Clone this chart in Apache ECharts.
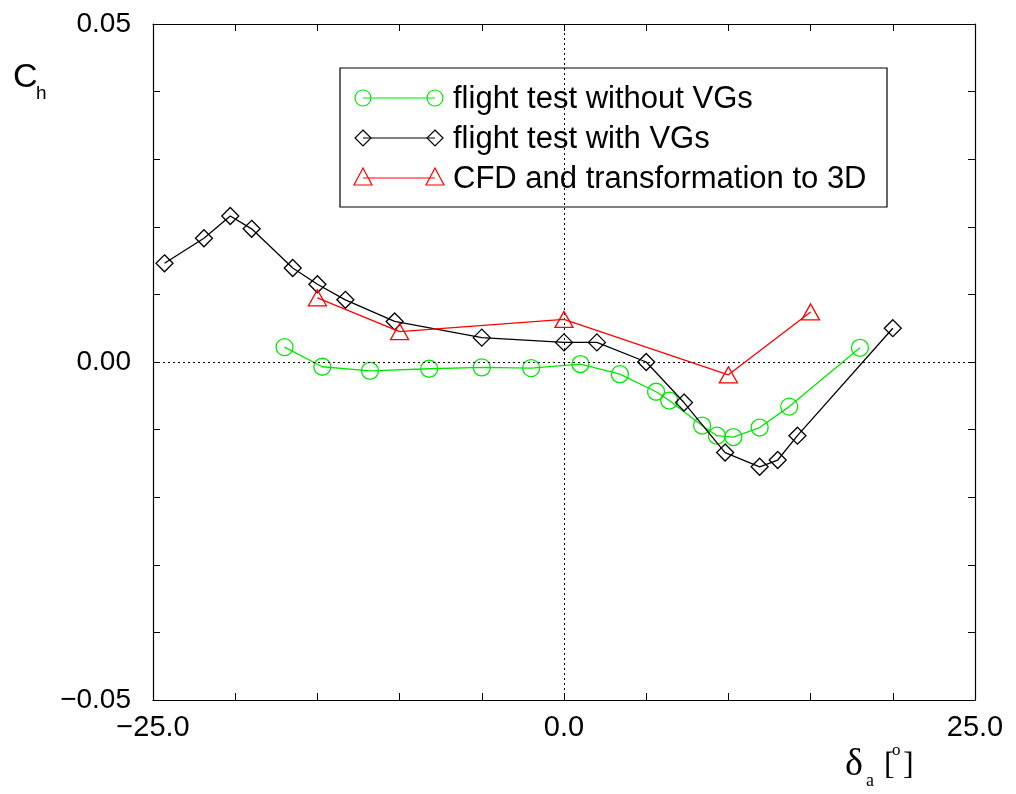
<!DOCTYPE html>
<html>
<head>
<meta charset="utf-8">
<script src="https://cdn.jsdelivr.net/npm/echarts@6/dist/echarts.min.js"></script>
<style>
  html, body { margin: 0; padding: 0; background: #fff; }
  #chart { width: 1016px; height: 794px; }
</style>
</head>
<body>
<div id="chart"></div>
<script>
// Hinge moment coefficient C_h versus aileron deflection delta_a [deg]
const seriesNames = ['flight test without VGs', 'flight test with VGs', 'CFD and transformation to 3D'];

// flight test without vortex generators
const noVgX = [-17.0, -14.7, -11.8, -8.2, -5.0, -2.0, 1.0, 3.4, 5.6, 6.4, 8.4, 9.3, 10.3, 11.9, 13.7, 18.0];
const noVgY = [0.0022, -0.0007, -0.0013, -0.0010, -0.0008, -0.0009, -0.0003, -0.0018, -0.0044, -0.0057, -0.0094, -0.0109, -0.0111, -0.0097, -0.0066, 0.0021];

// flight test with vortex generators
const vgX = [-24.3, -21.9, -20.3, -19.0, -16.5, -15.0, -13.3, -10.3, -5.0, 0.0, 2.0, 5.0, 7.3, 9.8, 11.9, 13.0, 14.2, 20.0];
const vgY = [0.0146, 0.0183, 0.0216, 0.0197, 0.0139, 0.0115, 0.0092, 0.0060, 0.0036, 0.0029, 0.0029, 0.0000, -0.0060, -0.0134, -0.0155, -0.0145, -0.0109, 0.0050];

// CFD result transformed to 3D
const cfdX = [-15.0, -10.0, 0.0, 10.0, 15.0];
const cfdY = [0.0095, 0.0045, 0.0063, -0.0019, 0.0074];

// labelled ticks
const xTickLabels = { '-25': '\u221225.0', '0': '0.0', '25': '25.0' };
const yTickLabels = [[-0.05, '\u22120.05'], [0, '0.00'], [0.05, '0.05']];

const pairs = (xs, ys) => xs.map((x, i) => [x, ys[i]]);

const GREEN = '#00e800';
const BLACK = '#000000';
const RED = '#ff0000';
const FONT = 'Liberation Sans, Arial, sans-serif';
const SERIF = 'Liberation Serif, Times New Roman, serif';

function yLabel(v) {
  for (const [t, s] of yTickLabels) if (Math.abs(v - t) < 1e-9) return s;
  return '';
}
function xLabel(v) {
  const k = String(Math.round(v));
  return Math.abs(v - Math.round(v)) < 1e-9 && xTickLabels[k] !== undefined ? xTickLabels[k] : '';
}

const tickStyle = { show: true, inside: true, length: 7, lineStyle: { color: '#000', width: 1 } };
const lineAxis = { show: true, onZero: false, lineStyle: { color: '#000', width: 1.2 } };

const chart = echarts.init(document.getElementById('chart'), null, { renderer: 'canvas' });

// legend rows: marker at both ends of a short line, then the name
function legendRow(i, color, marker) {
  const y = 98 + i * 40;
  const x1 = 363, x2 = 435;
  const els = [{
    type: 'line', shape: { x1: x1, y1: y, x2: x2, y2: y },
    style: { stroke: color, lineWidth: 1.2 }
  }];
  for (const cx of [x1, x2]) {
    if (marker === 'circle') {
      els.push({ type: 'circle', shape: { cx: cx, cy: y, r: 8 }, style: { stroke: color, fill: null, lineWidth: 1.2 } });
    } else if (marker === 'diamond') {
      els.push({ type: 'polygon', shape: { points: [[cx, y - 8], [cx + 8, y], [cx, y + 8], [cx - 8, y]] }, style: { stroke: color, fill: null, lineWidth: 1.2 } });
    } else {
      els.push({ type: 'polygon', shape: { points: [[cx, y - 10], [cx + 9, y + 7], [cx - 9, y + 7]] }, style: { stroke: color, fill: null, lineWidth: 1.2 } });
    }
  }
  els.push({
    type: 'text', x: 453, y: y + 1,
    style: { text: seriesNames[i], font: '31px ' + FONT, fill: '#000', verticalAlign: 'middle', textAlign: 'left' }
  });
  return els;
}

const option = {
  backgroundColor: '#fff',
  animation: false,
  grid: { left: 153, right: 41, top: 24, bottom: 94 },
  xAxis: [{
    type: 'value', min: -25, max: 25, interval: 5, position: 'bottom',
    axisLine: lineAxis, axisTick: tickStyle, splitLine: { show: false },
    axisLabel: { show: true, formatter: xLabel, fontSize: 29, fontFamily: FONT, color: '#000', margin: 13, showMinLabel: true, showMaxLabel: true }
  }, {
    type: 'value', min: -25, max: 25, interval: 5, position: 'top',
    axisLine: lineAxis, axisTick: tickStyle, splitLine: { show: false }, axisLabel: { show: false }
  }],
  yAxis: [{
    type: 'value', min: -0.05, max: 0.05, interval: 0.01, position: 'left',
    axisLine: lineAxis, axisTick: tickStyle, splitLine: { show: false },
    axisLabel: { show: true, formatter: yLabel, fontSize: 28, fontFamily: FONT, color: '#000', margin: 22, showMinLabel: true, showMaxLabel: true }
  }, {
    type: 'value', min: -0.05, max: 0.05, interval: 0.01, position: 'right',
    axisLine: lineAxis, axisTick: tickStyle, splitLine: { show: false }, axisLabel: { show: false }
  }],
  series: [{
    name: seriesNames[0], type: 'line', data: pairs(noVgX, noVgY),
    symbol: 'circle', symbolSize: 17, showAllSymbol: true,
    lineStyle: { color: GREEN, width: 1.3 },
    itemStyle: { color: 'transparent', borderColor: GREEN, borderWidth: 1.3 },
    markLine: {
      silent: true, symbol: ['none', 'none'], label: { show: false },
      lineStyle: { color: '#000', type: [2, 3], width: 1 },
      data: [{ xAxis: 0 }, { yAxis: 0 }]
    },
    z: 3
  }, {
    name: seriesNames[1], type: 'line', data: pairs(vgX, vgY),
    symbol: 'diamond', symbolSize: 17, showAllSymbol: true,
    lineStyle: { color: BLACK, width: 1.3 },
    itemStyle: { color: 'transparent', borderColor: BLACK, borderWidth: 1.3 },
    z: 4
  }, {
    name: seriesNames[2], type: 'line', data: pairs(cfdX, cfdY),
    symbol: 'triangle', symbolSize: [18, 16], showAllSymbol: true,
    lineStyle: { color: RED, width: 1.3 },
    itemStyle: { color: 'transparent', borderColor: RED, borderWidth: 1.3 },
    z: 5
  }],
  graphic: [
    // y-axis title C_h
    { type: 'text', x: 13, y: 61, style: { text: 'C', font: '34px ' + FONT, fill: '#000' } },
    { type: 'text', x: 36, y: 84, style: { text: 'h', font: '19px ' + FONT, fill: '#000' } },
    // x-axis title delta_a [deg]
    { type: 'text', x: 845, y: 746, style: { text: '\u03b4', font: '38px ' + SERIF, fill: '#000' } },
    { type: 'text', x: 866, y: 772, style: { text: 'a', font: '18px ' + SERIF, fill: '#000' } },
    { type: 'text', x: 884, y: 750, style: { text: '[', font: '32px ' + SERIF, fill: '#000' } },
    { type: 'text', x: 892, y: 742, style: { text: 'o', font: '17px ' + SERIF, fill: '#000' } },
    { type: 'text', x: 903, y: 750, style: { text: ']', font: '32px ' + SERIF, fill: '#000' } },
    // legend box
    {
      type: 'group', z: 100, children: [
        { type: 'rect', shape: { x: 340, y: 68, width: 547, height: 139 }, style: { fill: '#fff', stroke: '#000', lineWidth: 1.2 } }
      ].concat(legendRow(0, GREEN, 'circle'), legendRow(1, BLACK, 'diamond'), legendRow(2, RED, 'triangle'))
    }
  ]
};

chart.setOption(option);
</script>
</body>
</html>
